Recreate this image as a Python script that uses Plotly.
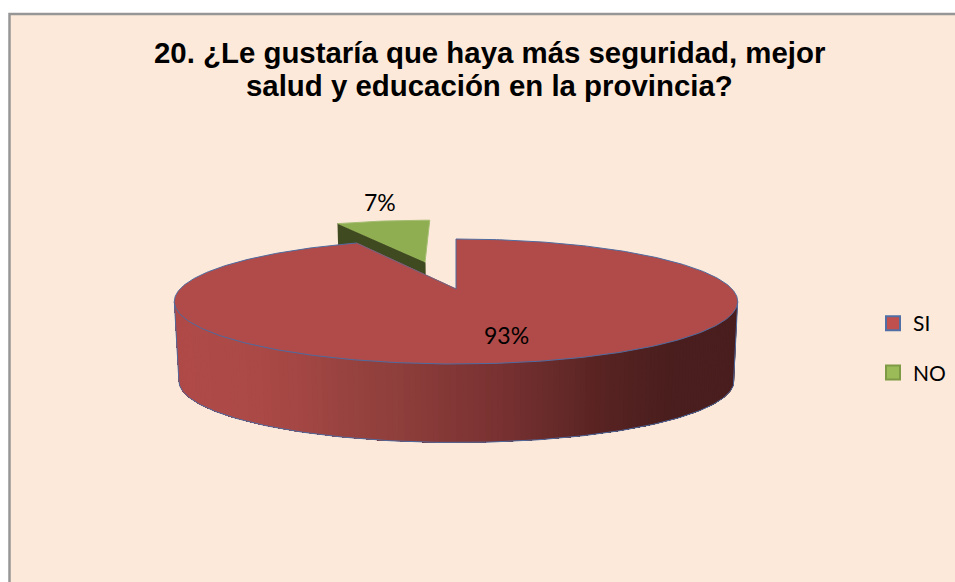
import numpy as np
import plotly.graph_objects as go

# Data
categories = ["SI", "NO"]
values = [93, 7]
labels_text = ["93%", "7%"]
title_lines = ["20. ¿Le gustaría que haya más seguridad, mejor",
               "salud y educación en la provincia?"]

# Style
BG = "#fde9d9"
TOP = {"SI": "#b04b49", "NO": "#8fae52"}
LEG = {"SI": "#c0504d", "NO": "#9bbb59"}
LEG_LINE = {"SI": "#4f6fa6", "NO": "#7f9a45"}
CUT_NO = "#404a20"
RIM = "#4f6ba0"

# Projection of the tilted disc onto the page
CX, CY, R, S, K = 456.0, 289.0, 276.0, 60.0, 0.2
CX2, CY2, R2, S2 = 456.5, 368.5, 272.0, 59.2
EXPLODE = 0.5
EXPLODE_U = 1.13


def proj(u, v, low=False):
    w = 1 + K * v
    if low:
        return CX2 + R2 * u / w, CY2 - S2 * v / w
    return CX + R * u / w, CY - S * v / w


total = sum(values)
a_no = 2 * np.pi * values[1] / total      # NO spans from -a_no to 0 (clockwise from top)
mid = -a_no / 2
eu, ev = EXPLODE * EXPLODE_U * np.sin(mid), EXPLODE * np.cos(mid)

fig = go.Figure()


def poly(xs, ys, fill, line=None, width=1):
    fig.add_trace(go.Scatter(
        x=list(xs), y=list(ys), mode="lines", fill="toself", fillcolor=fill,
        line=dict(color=line or fill, width=width), hoverinfo="skip", showlegend=False))


# Exploded NO slice
th_no = np.linspace(-a_no, 0, 30)
u = np.sin(th_no) + eu
v = np.cos(th_no) + ev
x_rim, y_rim = proj(u, v)
x_c, y_c = proj(eu, ev)
xl, yl = proj(u, v, low=True)
xcl, ycl = proj(eu, ev, low=True)
# cut face running from the outer rim to the centre
poly([x_rim[0], x_c, xcl, xl[0]], [y_rim[0], y_c, ycl, yl[0]], CUT_NO)
poly(list(x_rim) + [x_c], list(y_rim) + [y_c], TOP["NO"], "#a5bd72", 1)

# SI slice: wall painted from right to left, each step covering the rest
stops_x = [175, 250, 300, 350, 400, 500, 570, 600, 640, 680, 739]
stops_r = [0xb0, 0xac, 0xa5, 0x98, 0x8f, 0x7a, 0x63, 0x5a, 0x50, 0x4a, 0x4a]
stops_g = [0x4b, 0x4a, 0x47, 0x43, 0x3f, 0x32, 0x29, 0x24, 0x21, 0x1e, 0x1e]
stops_b = [0x49, 0x47, 0x44, 0x40, 0x3c, 0x32, 0x28, 0x23, 0x20, 0x1e, 0x1e]
tan = np.arccos(-K)                       # where the rim meets the silhouette
th_front = np.linspace(tan, 2 * np.pi - tan, 161)
xu_all, yu_all = proj(np.sin(th_front), np.cos(th_front))
xl_all, yl_all = proj(np.sin(th_front), np.cos(th_front), low=True)
for i in range(len(th_front) - 1):
    xm = (xu_all[i] + xl_all[i]) / 2
    col = "rgb(%d,%d,%d)" % (np.interp(xm, stops_x, stops_r),
                             np.interp(xm, stops_x, stops_g),
                             np.interp(xm, stops_x, stops_b))
    fig.add_trace(go.Scatter(
        x=list(xu_all[i:]) + list(xl_all[i:][::-1]),
        y=list(yu_all[i:]) + list(yl_all[i:][::-1]),
        mode="lines", fill="toself", fillcolor=col, line=dict(width=0),
        hoverinfo="skip", showlegend=False))

# Wall outline
fig.add_trace(go.Scatter(
    x=[xu_all[0]] + list(xl_all) + [xu_all[-1]],
    y=[yu_all[0]] + list(yl_all) + [yu_all[-1]],
    mode="lines", line=dict(color=RIM, width=1), hoverinfo="skip", showlegend=False))

# SI top face
th_si = np.linspace(0, 2 * np.pi - a_no, 400)
xt, yt = proj(np.sin(th_si), np.cos(th_si))
xc0, yc0 = proj(0.0, 0.0)
poly(list(xt) + [xc0, xt[0]], list(yt) + [yc0, yt[0]], TOP["SI"], RIM, 1)
fig.add_trace(go.Scatter(x=[xt[-1], xc0], y=[yt[-1], yc0], mode="lines",
                         line=dict(color="#8c5a68", width=1), hoverinfo="skip", showlegend=False))

# Legend entries
for cat in categories:
    fig.add_trace(go.Scatter(
        x=[None], y=[None], mode="markers", name=cat, legendgroup=cat,
        marker=dict(symbol="square", size=14, color=LEG[cat],
                    line=dict(color=LEG_LINE[cat], width=2))))

# Value labels
fig.add_annotation(x=506, y=335, text=labels_text[0], showarrow=False,
                   font=dict(family="Lato", size=23, color="#000"))
fig.add_annotation(x=380, y=202, text=labels_text[1], showarrow=False,
                   font=dict(family="Lato", size=23, color="#000"))

# Title lines
for line, ty in zip(title_lines, [52, 85]):
    fig.add_annotation(x=489, y=ty, text="<b>%s</b>" % line, showarrow=False,
                       font=dict(family="Liberation Sans", size=29.4, color="#000"))

# Frame of the chart area
fig.add_shape(type="rect", x0=9.5, y0=14, x1=1000, y1=700, xref="x", yref="y",
              line=dict(color="#969696", width=2.5), fillcolor=BG, layer="below")

fig.update_layout(
    width=955, height=582, margin=dict(l=0, r=0, t=0, b=0),
    paper_bgcolor="white", plot_bgcolor="white",
    xaxis=dict(range=[0, 955], visible=False, fixedrange=True),
    yaxis=dict(range=[582, 0], visible=False, fixedrange=True),
    legend=dict(x=873 / 955, y=1 - 303 / 582, xanchor="left", yanchor="top",
                bgcolor="rgba(0,0,0,0)", tracegroupgap=19, itemwidth=30,
                font=dict(family="Lato", size=21, color="#000")),
)
fig.write_html("out.html", config={"displayModeBar": False},
               post_script="document.body.style.margin='0';document.body.style.overflow='hidden';")
